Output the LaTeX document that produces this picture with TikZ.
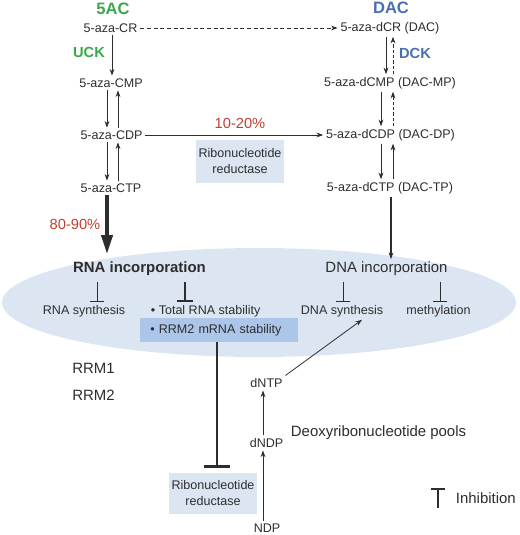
\documentclass[tikz,border=0pt]{standalone}
\usepackage{fontspec}
\setmainfont{Liberation Sans}
\usetikzlibrary{arrows.meta}

\definecolor{agreen}{RGB}{58,168,74}
\definecolor{ablue}{RGB}{72,112,176}
\definecolor{ared}{RGB}{196,62,48}
\definecolor{cloud}{RGB}{220,230,243}
\definecolor{rrmbox}{RGB}{171,198,232}
\definecolor{ink}{RGB}{45,45,45}

\tikzset{
  lab/.style={inner sep=2pt, text=ink, font=\fontsize{9.4}{11}\selectfont},
  biglab/.style={inner sep=2pt, text=ink, font=\fontsize{11.2}{13}\selectfont},
  drug/.style={inner sep=1pt, font=\bfseries\fontsize{12.4}{14}\selectfont},
  enz/.style={inner sep=1pt, font=\bfseries\fontsize{11}{13}\selectfont},
  pct/.style={inner sep=1pt, text=ared, font=\fontsize{11}{13}\selectfont},
  enzbox/.style={lab, fill=cloud, align=center, font=\fontsize{9.4}{12}\selectfont},
  fwd/.style={draw=ink, line width=0.6pt, -{Stealth[length=5pt,width=3.6pt]}},
  inhib/.style={draw=ink, line width=0.6pt, -{Bar[width=11pt]}},
}

\begin{document}
\begin{tikzpicture}[x=0.75pt,y=0.75pt,yscale=-1]
\useasboundingbox (0,0) rectangle (520,535);

% Incorporation ellipse
\fill[cloud] (259,302.5) ellipse [x radius=257, y radius=54.5];

% Text Node
\node[drug, text=agreen] (ac) at (113,9) {5AC};
\node[drug, text=ablue] (dac) at (391,8) {DAC};
\node[enz, text=agreen] (uck) at (89,52) {UCK};
\node[enz, text=ablue] (dck) at (415,53) {DCK};

% 5AC side
\node[lab] (cr) at (110.5,28) {5-aza-CR};
\node[lab] (cmp) at (111,83) {5-aza-CMP};
\node[lab] (cdp) at (111.5,135) {5-aza-CDP};
\node[lab] (ctp) at (111,188) {5-aza-CTP};

% DAC side
\node[lab] (dcr) at (390,28) {5-aza-dCR (DAC)};
\node[lab] (dcmp) at (390,83) {5-aza-dCMP (DAC-MP)};
\node[lab] (dcdp) at (390.5,135) {5-aza-dCDP (DAC-DP)};
\node[lab] (dctp) at (390,188) {5-aza-dCTP (DAC-TP)};

% Text Node
\node[pct] (p1020) at (240,123) {10-20\%};
\node[pct] (p8090) at (75,224) {80-90\%};
\node[enzbox, minimum width=64.5pt, minimum height=32pt] (rnr) at (240,161.5) {Ribonucleotide\\reductase};

% Inside the ellipse
\node[biglab, font=\bfseries\fontsize{11.2}{13}\selectfont] (rnainc) at (139.5,269) {RNA incorporation};
\node[biglab] (dnainc) at (386.5,269) {DNA incorporation};
\node[lab] (rnasyn) at (84,311) {RNA synthesis};
\node[lab, anchor=west] (totrna) at (148,311) {\textbullet\ Total RNA stability};
\node[lab, anchor=west, fill=rrmbox, text width=103.5pt, inner xsep=7.5pt, minimum height=18pt, align=left] (rrm2) at (140,330) {\textbullet\ RRM2 mRNA stability};
\node[lab] (dnasyn) at (342,311) {DNA synthesis};
\node[lab] (methyl) at (438.5,311) {methylation};

% Lower part
\node[biglab] (rrma) at (93.5,368) {RRM1};
\node[biglab] (rrmb) at (93.5,395) {RRM2};
\node[lab] (dntp) at (266.5,383) {dNTP};
\node[lab] (dndp) at (266.5,443) {dNDP};
\node[lab] (ndp) at (267,528) {NDP};
\node[biglab, anchor=west] (pools) at (288,433) {Deoxyribonucleotide pools};
\node[enzbox, minimum width=66pt, minimum height=30.75pt] (rnrb) at (213,493.5) {Ribonucleotide\\reductase};
\node[biglab, anchor=west] (inh) at (453,498) {Inhibition};
\coordinate (legfoot) at (438,508);
\coordinate (leghead) at (438,488);

% 5AC pathway
\draw[fwd, dash pattern=on 3pt off 2pt] (cr.east) -- (dcr.west);
\draw[fwd] (cr.south -| 112,0) -- (cmp.north -| 112,0);
\draw[fwd] (cmp.south -| 107,0) -- (cdp.north -| 107,0);
\draw[fwd] (cdp.north -| 118,0) -- (cmp.south -| 118,0);
\draw[fwd] (cdp.south -| 107,0) -- (ctp.north -| 107,0);
\draw[fwd] (ctp.north -| 118,0) -- (cdp.south -| 118,0);
\draw[draw=ink, line width=2.3pt, -{Triangle[length=14pt,width=8.5pt]}, shorten >=4pt] (ctp.south -| 107,0) -- (rnainc.north -| 107,0);
\draw[fwd] (cdp.east) -- (dcdp.west);

% DAC pathway
\draw[fwd] (dcr.south -| 386,0) -- (dcmp.north -| 386,0);
\draw[fwd, dash pattern=on 2.5pt off 1.5pt] (dcmp.north -| 393,0) -- (dcr.south -| 393,0);
\draw[fwd] (dcmp.south -| 381,0) -- (dcdp.north -| 381,0);
\draw[fwd, dash pattern=on 2.5pt off 1.5pt] (dcdp.north -| 393,0) -- (dcmp.south -| 393,0);
\draw[fwd] (dcdp.south -| 381,0) -- (dctp.north -| 381,0);
\draw[fwd] (dctp.north -| 393,0) -- (dcdp.south -| 393,0);
\draw[fwd, line width=0.8pt] (dctp.south -| 391,0) -- (dnainc.north -| 391,0);

% Inhibitions
\draw[inhib, shorten <=2pt] (rnainc.south -| 97,0) -- (rnasyn.north -| 97,0);
\draw[inhib, line width=1.6pt, -{Bar[width=12pt]}, shorten <=2pt] (rnainc.south -| 185,0) -- (totrna.north -| 185,0);
\draw[inhib, shorten <=2pt] (dnainc.south -| 343,0) -- (dnasyn.north -| 343,0);
\draw[inhib, shorten <=2pt] (dnainc.south -| 440,0) -- (methyl.north -| 440,0);
\draw[inhib, line width=1.9pt, -{Bar[width=19pt]}, shorten >=3.75pt] (rrm2.south -| 217,0) -- (rnrb.north -| 217,0);
\draw[inhib, line width=1.5pt, -{Bar[width=11pt]}] (legfoot) -- (leghead);

% Deoxyribonucleotide pools
\draw[fwd] (ndp.north -| 263,0) -- (dndp.south -| 263,0);
\draw[fwd] (dndp.north -| 263,0) -- (dntp.south -| 263,0);
\draw[fwd] (dntp.north east) -- ([xshift=15pt]dnasyn.south);

\end{tikzpicture}
\end{document}
